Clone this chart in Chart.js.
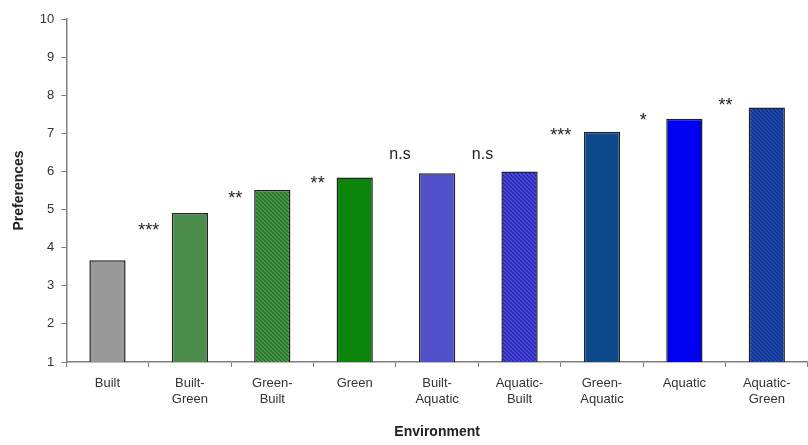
<!DOCTYPE html>
<html>
<head>
<meta charset="utf-8">
<script src="https://cdn.jsdelivr.net/npm/chart.js@4.4.1/dist/chart.umd.min.js"></script>
<style>
  html, body { margin: 0; padding: 0; background: #fff; }
  #wrap { width: 808px; height: 445px; position: relative; }
</style>
</head>
<body>
<div id="wrap"><canvas id="prefChart"></canvas></div>
<script>
// categories and values
const environments = [
  ['Built'], ['Built-', 'Green'], ['Green-', 'Built'], ['Green'], ['Built-', 'Aquatic'],
  ['Aquatic-', 'Built'], ['Green-', 'Aquatic'], ['Aquatic'], ['Aquatic-', 'Green']
];
const preferences = [3.67, 4.91, 5.51, 5.84, 5.95, 6.0, 7.04, 7.38, 7.68];
const yTicks = [1, 2, 3, 4, 5, 6, 7, 8, 9, 10];

// significance marks between neighbouring bars
const sigLabels = ['***', '**', '**', 'n.s', 'n.s', '***', '*', '**'];
const sigX = [0.5, 1.55, 2.55, 3.55, 4.55, 5.5, 6.5, 7.5];
const sigY = [4.45, 5.3, 5.7, 6.45, 6.45, 6.95, 7.35, 7.75];

function hatch(bg, line) {
  const c = document.createElement('canvas');
  c.width = 4; c.height = 4;
  const g = c.getContext('2d');
  g.fillStyle = bg;
  g.fillRect(0, 0, 4, 4);
  g.strokeStyle = line;
  g.lineWidth = 1.2;
  g.beginPath();
  g.moveTo(-1, -1); g.lineTo(5, 5);
  g.moveTo(-1, 3); g.lineTo(1, 5);
  g.moveTo(3, -1); g.lineTo(5, 1);
  g.stroke();
  return document.getElementById('prefChart').getContext('2d').createPattern(c, 'repeat');
}

const fills = [
  '#999999',
  '#4b8b4b',
  hatch('#4aa04a', '#245f24'),
  '#0b840b',
  '#5151c9',
  hatch('#4a4af0', '#23238a'),
  '#0d4a8b',
  '#0000f0',
  hatch('#1e48bd', '#12306e')
];

const sigPlugin = {
  id: 'sigMarks',
  afterDatasetsDraw(chart) {
    const { ctx, scales: { x, y } } = chart;
    ctx.save();
    ctx.fillStyle = '#222';
    ctx.textAlign = 'center';
    ctx.textBaseline = 'middle';
    sigLabels.forEach((t, i) => {
      const star = t.indexOf('*') === 0;
      ctx.font = star ? '18px "Liberation Sans", Arial' : '16px "Liberation Sans", Arial';
      ctx.fillText(t, x.getPixelForValue(sigX[i]), y.getPixelForValue(sigY[i]) + (star ? 1 : 0));
    });
    ctx.restore();
  }
};

new Chart(document.getElementById('prefChart'), {
  type: 'bar',
  data: {
    labels: environments,
    datasets: [{
      data: preferences,
      backgroundColor: fills,
      borderColor: '#222',
      borderWidth: 1.5,
      borderSkipped: 'bottom',
      barPercentage: 0.44,
      categoryPercentage: 1.0
    }]
  },
  options: {
    responsive: true,
    maintainAspectRatio: false,
    animation: false,
    layout: { padding: { top: 19, right: 0, left: 7, bottom: 0 } },
    plugins: { legend: { display: false }, tooltip: { enabled: false } },
    scales: {
      x: {
        offset: true,
        grid: { drawOnChartArea: false, color: '#808080', tickLength: 5, offset: true },
        border: { color: '#808080', width: 1.5 },
        ticks: { color: '#333', font: { family: '"Liberation Sans", Arial', size: 13 }, maxRotation: 0, autoSkip: false, padding: 9 },
        title: { display: true, text: 'Environment', color: '#222', font: { family: '"Liberation Sans", Arial', size: 14, weight: 'bold' }, padding: { top: 8 } }
      },
      y: {
        min: 1,
        max: 10,
        afterBuildTicks(scale) { scale.ticks = yTicks.map(v => ({ value: v })); },
        grid: { drawOnChartArea: false, color: '#808080', tickLength: 5 },
        border: { color: '#808080', width: 1.5 },
        ticks: { color: '#333', font: { family: '"Liberation Sans", Arial', size: 13 }, padding: 7 },
        title: { display: true, text: 'Preferences', color: '#222', font: { family: '"Liberation Sans", Arial', size: 14, weight: 'bold' }, padding: { bottom: 5 } }
      }
    }
  },
  plugins: [sigPlugin]
});
</script>
</body>
</html>
